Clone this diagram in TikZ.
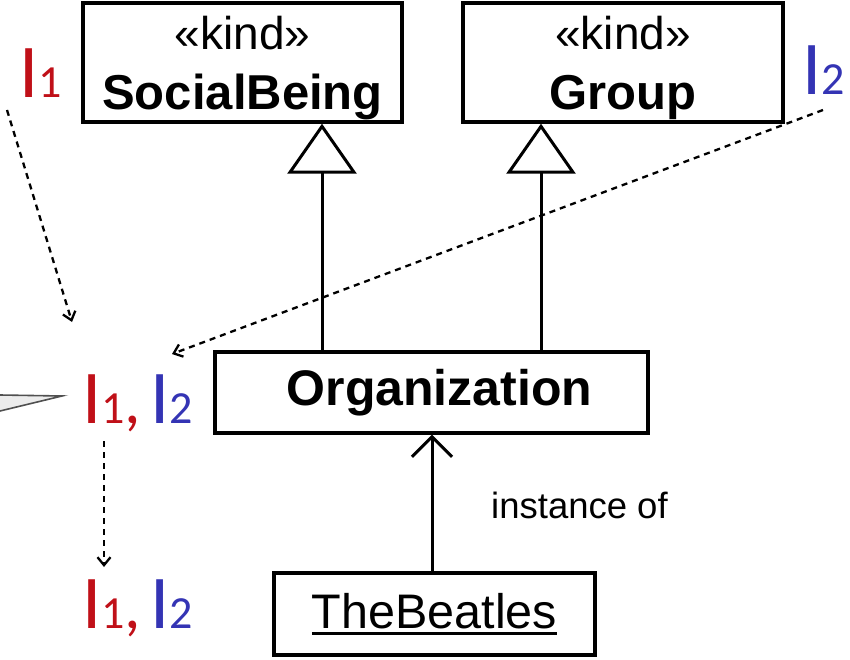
\documentclass[tikz,border=0pt]{standalone}
\usepackage{fontspec}
\setmainfont{Liberation Sans}
\newfontfamily\califont{Carlito}
\usetikzlibrary{arrows.meta}

\definecolor{idred}{RGB}{192,16,24}
\definecolor{idblue}{RGB}{52,52,180}
\definecolor{wedgefill}{RGB}{236,236,236}
\definecolor{wedgeline}{RGB}{80,80,80}

% identity label: a large I with its index set on the same baseline
\newcommand\idI[2]{\textcolor{#1}{{\fontsize{76}{76}\selectfont I}{\fontsize{46}{46}\selectfont #2}}}
% large comma between two identity labels
\newcommand\idsep{\textcolor{idred}{\fontsize{66}{66}\selectfont,}}
% text with a thick underline
\newcommand\ultext[1]{\leavevmode\setbox0=\hbox{#1}\rlap{\rule[-6pt]{\wd0}{2.2pt}}\box0}

\begin{document}
\begin{tikzpicture}[x=1pt,y=-1pt,
  classbox/.style={draw, line width=3.4pt, inner sep=0pt, align=center, fill=white},
  kindbox/.style={classbox, minimum height=119pt, font=\fontsize{46}{60}\selectfont},
  gen/.style={line width=3pt, -{Triangle[open, width=69pt, length=50pt, line width=3pt]}},
  inst/.style={line width=3pt, -{Straight Barb[width=40pt, length=20pt, line width=3pt]}},
  dep/.style={line width=2.3pt, dash pattern=on 6pt off 5pt,
    -{Straight Barb[width=13pt, length=8pt, line width=2.3pt]}},
  lab/.style={anchor=base west, inner sep=0pt, font=\califont}
]
\useasboundingbox (0,0) rectangle (850,660);

% callout pointer entering from the left
\fill[wedgefill] (0,395) -- (62,396) -- (0,411) -- cycle;
\draw[wedgeline, line width=1.6pt, line join=miter] (0,395) -- (62,396) -- (0,411);

% classes
\node[kindbox, minimum width=319pt] (sb) at (242.5,62.5)
      {\rule{0pt}{45pt}«kind»\\{\fontsize{49}{60}\selectfont\bfseries SocialBeing}};
\node[kindbox, minimum width=320pt] (grp) at (623,62.5)
      {\rule{0pt}{45pt}«kind»\\{\fontsize{49}{60}\selectfont\bfseries Group}};
\node[classbox, minimum width=433pt, minimum height=81pt,
      font=\fontsize{50}{50}\selectfont\bfseries] (org) at (431.5,392.5)
      {\hspace{16pt}Organization};
\node[classbox, minimum width=321pt, minimum height=82pt,
      font=\fontsize{48.5}{48.5}\selectfont] (beatles) at (434.5,614)
      {\ultext{TheBeatles}};

\node[anchor=base west, inner sep=0pt, font=\fontsize{36.5}{36.5}\selectfont]
      (instof) at (491,518) {instance of};

% generalizations and instantiation
\coordinate (g1) at (322,0);
\coordinate (g2) at (541,0);
\coordinate (ia) at (432,0);
\draw[gen] (org.north -| g1) -- (sb.south -| g1);
\draw[gen] (org.north -| g2) -- (grp.south -| g2);
\draw[inst] (beatles.north -| ia) -- (org.south -| ia);

% identity labels
\node[lab] (iOne) at (19,98) {\idI{idred}{1}};
\node[lab] (iTwo) at (802,95) {\idI{idblue}{2}};
\node[lab] (iMid) at (82,423) {\idI{idred}{1}\idsep\hspace{9pt}\idI{idblue}{2}};
\node[lab] (iLow) at (82,628) {\idI{idred}{1}\idsep\hspace{9pt}\idI{idblue}{2}};

% dashed propagation arrows
\coordinate (d1s) at (7,110);
\coordinate (d1e) at (72,322);
\coordinate (d2s) at (823,110);
\coordinate (d2e) at (172,354);
\coordinate (d3s) at (104,441);
\coordinate (d3e) at (104,567);
\draw[dep] (d1s) -- (d1e);
\draw[dep] (d2s) -- (d2e);
\draw[dep] (d3s) -- (d3e);
\end{tikzpicture}
\end{document}
